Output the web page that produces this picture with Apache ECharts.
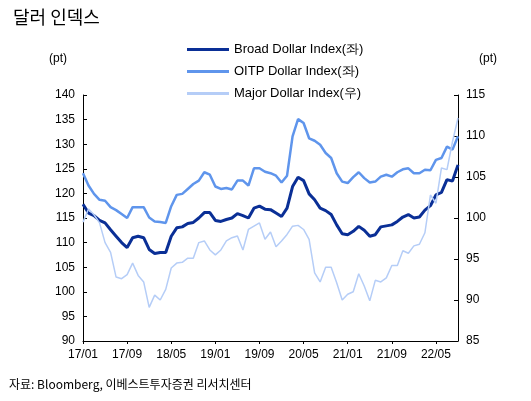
<!DOCTYPE html><html><head><meta charset="utf-8"><script src="https://cdn.jsdelivr.net/npm/echarts@6/dist/echarts.min.js"></script>
<style>body{margin:0;background:#fff}#c{width:531px;height:401px}</style></head><body><div id="c"></div><script>
const months=[];for(let y=17;y<=22;y++)for(let m=1;m<=12;m++){if(y===22&&m>9)break;months.push(y+'/'+String(m).padStart(2,'0'));}
const broad=[117.8,116,115.5,114.5,114,112.6,111.3,110,109,111,111.3,111,108.6,107.8,108,108,111.3,113,113.2,113.9,114.1,115,116.1,116.1,114.5,114.3,114.7,115,115.9,115.5,115,117,117.4,116.8,116.7,116,115.3,117,
121.4,123.3,122.6,119.9,118.7,117,116.5,115.7,113.6,111.8,111.6,112.3,113.3,112.5,111.3,111.6,113.2,113.4,113.6,114.3,115.2,115.7,115,115.2,116.6,117.5,119.7,120.2,122.8,122.5,125.8];
const oitp=[124.1,121.6,119.9,118.7,118.5,117.2,116.6,115.8,115,117.2,117.2,117.2,115.1,114.3,114.2,114,117.4,119.7,119.9,120.9,121.9,122.6,124.3,123.8,121.4,120.9,121.1,120.8,122.6,122.6,121.6,125.1,125.1,124.4,124.1,123.6,122.2,123.6,
131.6,135.1,134.3,131.2,130.7,129.9,128.2,127.2,124.1,122.4,122.1,123.3,124.3,123.1,122.2,122.4,123.4,123.8,123.4,124.3,124.9,125.1,124.1,124.1,124.8,124.7,126.8,127.2,129.5,128.9,131.6];
const major=[99.5,101.1,100.4,99.4,97,95.8,92.8,92.6,93.1,94.5,93,92.2,89.1,90.6,90,91.3,93.9,94.5,94.6,95.1,95.1,97,97.2,96.1,95.5,96.1,97.2,97.6,97.8,96.1,98.6,99,99.4,97.4,98.3,96.5,97.2,98,
99,99.1,98.6,97.4,93.3,92.2,94,94,92.1,90,90.7,91,93.2,91.7,89.9,92.4,92.2,92.7,94.2,94.2,96,95.7,96.6,96.8,98.2,102.8,101.8,106.1,105.9,109.3,112.2];
const F='Liberation Sans, Arial, sans-serif';
const ch=echarts.init(document.getElementById('c'));
const ax={axisLine:{show:true,lineStyle:{color:'#000'}},axisTick:{show:true,inside:true,length:4,lineStyle:{color:'#000'}},splitLine:{show:false},axisLabel:{color:'#000',fontSize:12,fontFamily:F}};
ch.setOption({animation:false,
title:[{text:'달러 인덱스',left:8,top:3,textStyle:{fontFamily:'Noto Sans CJK KR',fontSize:18,fontWeight:'normal',color:'#000'}},
{text:'(pt)',left:44,top:48,textStyle:{fontFamily:F,fontSize:12,fontWeight:'normal',color:'#000'}},
{text:'(pt)',left:474,top:48,textStyle:{fontFamily:F,fontSize:12,fontWeight:'normal',color:'#000'}},
{text:'자료: Bloomberg, 이베스트투자증권 리서치센터',left:4,top:373,textStyle:{fontFamily:'Noto Sans CJK KR',fontSize:12,fontWeight:'normal',color:'#000'}}],
legend:{orient:'vertical',left:182,top:38,itemGap:9,itemWidth:42,itemHeight:3,icon:'rect',textStyle:{fontFamily:F,fontSize:13,color:'#000'},
data:['Broad Dollar Index(좌)','OITP Dollar Index(좌)','Major Dollar Index(우)']},
grid:{left:83,right:73,top:95,bottom:60},
xAxis:Object.assign({type:'category',data:months,boundaryGap:false},ax,{axisLabel:{color:'#000',fontSize:12,fontFamily:F,interval:7,margin:8},axisTick:{show:true,inside:false,interval:7,length:3}}),
yAxis:[Object.assign({type:'value',min:90,max:140,interval:5},ax),Object.assign({type:'value',min:85,max:115,interval:5,position:'right'},ax)],
series:[
{name:'Broad Dollar Index(좌)',type:'line',data:broad,symbol:'none',lineStyle:{color:'#0a2f96',width:3},itemStyle:{color:'#0a2f96'}},
{name:'OITP Dollar Index(좌)',type:'line',data:oitp,symbol:'none',lineStyle:{color:'#5f95ec',width:2.5},itemStyle:{color:'#5f95ec'}},
{name:'Major Dollar Index(우)',type:'line',yAxisIndex:1,data:major,symbol:'none',lineStyle:{color:'#b5cdf7',width:1.5},itemStyle:{color:'#b5cdf7'}}]});
</script></body></html>
